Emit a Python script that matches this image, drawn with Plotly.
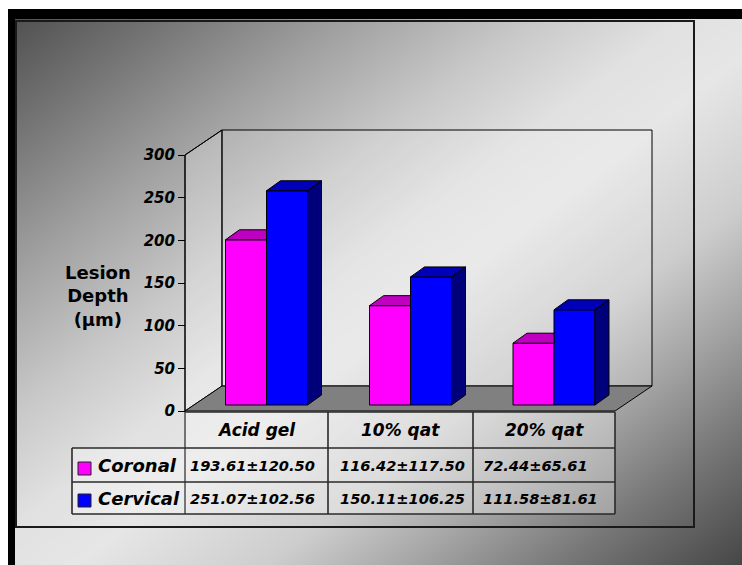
import numpy as np
import plotly.graph_objects as go

# ---- data -------------------------------------------------------------
categories = ["Acid gel", "10% qat", "20% qat"]
series_names = ["Coronal", "Cervical"]
coronal_mean = [193.61, 116.42, 72.44]
coronal_sd = [120.50, 117.50, 65.61]
cervical_mean = [251.07, 150.11, 111.58]
cervical_sd = [102.56, 106.25, 81.61]
y_ticks = [0, 50, 100, 150, 200, 250, 300]
y_title = "Lesion<br>Depth<br>(µm)"

# ---- page geometry (pixels) ------------------------------------------
W, H = 742, 565
PXU = 256 / 300            # pixels per µm on the value axis
AX_X, AX_ZERO = 185, 411   # front value axis: x position, pixel of 0
DEPTH_DX, DEPTH_DY = 37, 25  # depth of the chart box
BAR_ZERO = 405             # pixel of 0 on the plane of the bar fronts
BAR_SHIFT, BAR_W = 10, 41
BAR_DX, BAR_DY = 14, 10    # bar depth
COL_EDGES = [185, 328, 473, 615]
LABEL_LEFT = 72
ROW_LINES = [412, 448, 482, 514]
VALUE_PAD = [3, 10, 8]
FONT = "DejaVu Sans"

colors = {
    "Coronal": ("#ff00ff", "#c000c0", "#8a008a"),
    "Cervical": ("#0000ff", "#0000b8", "#00007a"),
}

fig = go.Figure()

# ---- diagonal background gradient --------------------------------------
gx = np.arange(-20, W + 40, 20)
gy = np.arange(-20, H + 40, 20)
GX, GY = np.meshgrid(gx, gy)
S = GX / W + GY / H
stops = [(0.0, 72), (0.25, 115), (0.5, 160), (0.75, 200), (0.95, 225),
         (1.1, 230), (1.36, 205), (1.55, 165), (1.75, 120), (2.0, 70)]
cscale = [[s / 2.0, f"rgb({v},{v},{v})"] for s, v in stops]
fig.add_trace(go.Heatmap(x=gx, y=gy, z=S, zmin=0, zmax=2, zsmooth="best",
                         colorscale=cscale, showscale=False, hoverinfo="skip"))


def poly(xs, ys, fill, line="black", width=1, yaxis="y"):
    fig.add_trace(go.Scatter(x=xs, y=ys, mode="lines", fill="toself",
                             fillcolor=fill, line=dict(color=line, width=width),
                             hoverinfo="skip", showlegend=False, yaxis=yaxis))


# ---- chart box: side wall, back wall, floor (pixel axis) ---------------
top300 = AX_ZERO - 300 * PXU
bx0, by_top, by_zero = AX_X + DEPTH_DX, top300 - DEPTH_DY, AX_ZERO - DEPTH_DY
bx1 = COL_EDGES[-1] + DEPTH_DX
poly([AX_X, AX_X, bx0, bx0, AX_X], [AX_ZERO, top300, by_top, by_zero, AX_ZERO],
     "rgba(255,255,255,0.22)")
poly([bx0, bx1, bx1, bx0, bx0], [by_top, by_top, by_zero, by_zero, by_top],
     "rgba(255,255,255,0.15)")
poly([AX_X, COL_EDGES[-1], bx1, bx0, AX_X],
     [AX_ZERO, AX_ZERO, by_zero, by_zero, AX_ZERO], "#808080")

# ---- data table cell fill ---------------------------------------------
poly([COL_EDGES[0], COL_EDGES[-1], COL_EDGES[-1], COL_EDGES[0], COL_EDGES[0]],
     [ROW_LINES[0], ROW_LINES[0], ROW_LINES[1], ROW_LINES[1], ROW_LINES[0]],
     "rgba(255,255,255,0.3)", line="rgba(0,0,0,0)")
poly([LABEL_LEFT, COL_EDGES[-1], COL_EDGES[-1], LABEL_LEFT, LABEL_LEFT],
     [ROW_LINES[1], ROW_LINES[1], ROW_LINES[3], ROW_LINES[3], ROW_LINES[1]],
     "rgba(255,255,255,0.3)", line="rgba(0,0,0,0)")

# ---- 3-D bars (value axis y2) -------------------------------------------
rise = BAR_DY / PXU
centers = [(COL_EDGES[i] + COL_EDGES[i + 1]) / 2 + BAR_SHIFT for i in range(3)]
series = [("Coronal", coronal_mean, -BAR_W / 2), ("Cervical", cervical_mean, BAR_W / 2)]
for name, vals, off in series:
    front, top, side = colors[name]
    xs = [c + off for c in centers]
    fig.add_trace(go.Bar(x=xs, y=vals, width=BAR_W, yaxis="y2", name=name,
                         marker=dict(color=front, line=dict(color="black", width=1)),
                         hoverinfo="skip", showlegend=False))
    tx, ty, sx, sy = [], [], [], []
    for x, v in zip(xs, vals):
        x0, x1 = x - BAR_W / 2, x + BAR_W / 2
        if name == "Coronal":
            # right part of the top face is hidden behind the neighbouring bar
            tx += [x0, x1, x1, x0 + BAR_DX, x0, None]
            ty += [v, v, v + rise, v + rise, v, None]
        else:
            tx += [x0, x1, x1 + BAR_DX, x0 + BAR_DX, x0, None]
            ty += [v, v, v + rise, v + rise, v, None]
            sx += [x1, x1 + BAR_DX, x1 + BAR_DX, x1, x1, None]
            sy += [0, rise, v + rise, v, 0, None]
    poly(tx, ty, top, yaxis="y2")
    if sx:
        poly(sx, sy, side, yaxis="y2")

# invisible anchor trace for the front value axis
fig.add_trace(go.Scatter(x=[AX_X], y=[0], yaxis="y3", mode="markers",
                         marker=dict(opacity=0), hoverinfo="skip", showlegend=False))

# ---- lines: axis, box edges, table grid, frame ----------------------------
shapes = []


def line(x0, y0, x1, y1, color="black", width=1):
    shapes.append(dict(type="line", xref="x", yref="y", x0=x0, y0=y0, x1=x1, y1=y1,
                       line=dict(color=color, width=width), layer="above"))


line(AX_X, top300, AX_X, ROW_LINES[3])
line(AX_X, top300, bx0, by_top)
grid = "#2a2a2a"
for i, yv in enumerate(ROW_LINES):
    line(COL_EDGES[0] if i == 0 else LABEL_LEFT, yv, COL_EDGES[-1], yv, grid, 1.6)
for xv in COL_EDGES[1:]:
    line(xv, ROW_LINES[0], xv, ROW_LINES[3], grid, 1.6)
line(LABEL_LEFT, ROW_LINES[1], LABEL_LEFT, ROW_LINES[3], grid, 1.6)

# legend keys
for name, (yk0, yk1) in zip(series_names, [(462, 475), (494, 507)]):
    shapes.append(dict(type="rect", xref="x", yref="y", x0=78, x1=91, y0=yk0, y1=yk1,
                       fillcolor=colors[name][0], line=dict(color="#222", width=1),
                       layer="above"))

# slide frame
shapes.append(dict(type="rect", xref="x", yref="y", x0=0, x1=W, y0=0, y1=9,
                   fillcolor="white", line=dict(width=0), layer="above"))
shapes.append(dict(type="rect", xref="x", yref="y", x0=0, x1=8, y0=0, y1=H,
                   fillcolor="white", line=dict(width=0), layer="above"))
shapes.append(dict(type="rect", xref="x", yref="y", x0=8, x1=W, y0=9, y1=19,
                   fillcolor="black", line=dict(width=0), layer="above"))
shapes.append(dict(type="rect", xref="x", yref="y", x0=8, x1=15, y0=9, y1=H,
                   fillcolor="black", line=dict(width=0), layer="above"))
shapes.append(dict(type="rect", xref="x", yref="y", x0=16, x1=694, y0=21, y1=527,
                   fillcolor="rgba(0,0,0,0)", line=dict(color="#1a1a1a", width=2),
                   layer="above"))

# ---- text ---------------------------------------------------------------
ann = []
bi = dict(family=FONT, color="black", weight="bold", style="italic")
ann.append(dict(x=98, y=296, text=y_title, showarrow=False, xanchor="center",
                yanchor="middle", align="center",
                font=dict(family=FONT, size=18, color="black", weight="bold")))
for i, cat in enumerate(categories):
    ann.append(dict(x=(COL_EDGES[i] + COL_EDGES[i + 1]) / 2, y=430, text=cat,
                    showarrow=False, font=dict(size=17, **bi)))
row_y = [465.5, 498]
for r, (name, means, sds) in enumerate([("Coronal", coronal_mean, coronal_sd),
                                         ("Cervical", cervical_mean, cervical_sd)]):
    ann.append(dict(x=96, y=row_y[r], text=name, showarrow=False, xanchor="left",
                    font=dict(size=18, **bi)))
    for i, (m, s) in enumerate(zip(means, sds)):
        ann.append(dict(x=COL_EDGES[i] + VALUE_PAD[i], y=row_y[r],
                        text=f"{m:.2f}±{s:.2f}", showarrow=False, xanchor="left",
                        font=dict(size=14.6, **bi)))

fig.update_layout(
    width=W, height=H, margin=dict(l=0, r=0, t=0, b=0), autosize=False,
    paper_bgcolor="white", plot_bgcolor="rgba(0,0,0,0)",
    barmode="overlay", showlegend=False,
    xaxis=dict(range=[0, W], visible=False, fixedrange=True),
    yaxis=dict(range=[H, 0], visible=False, fixedrange=True),
    yaxis2=dict(range=[-(H - BAR_ZERO) / PXU, BAR_ZERO / PXU], overlaying="y",
                visible=False, fixedrange=True),
    yaxis3=dict(range=[-(H - AX_ZERO) / PXU, AX_ZERO / PXU], overlaying="y",
                anchor="free", position=AX_X / W, side="left",
                tickvals=y_ticks, ticks="outside", ticklen=7, tickcolor="black",
                showline=False, showgrid=False, zeroline=False,
                tickfont=dict(size=15, **bi), fixedrange=True),
    shapes=shapes, annotations=ann,
)

fig.write_html("out.html")
